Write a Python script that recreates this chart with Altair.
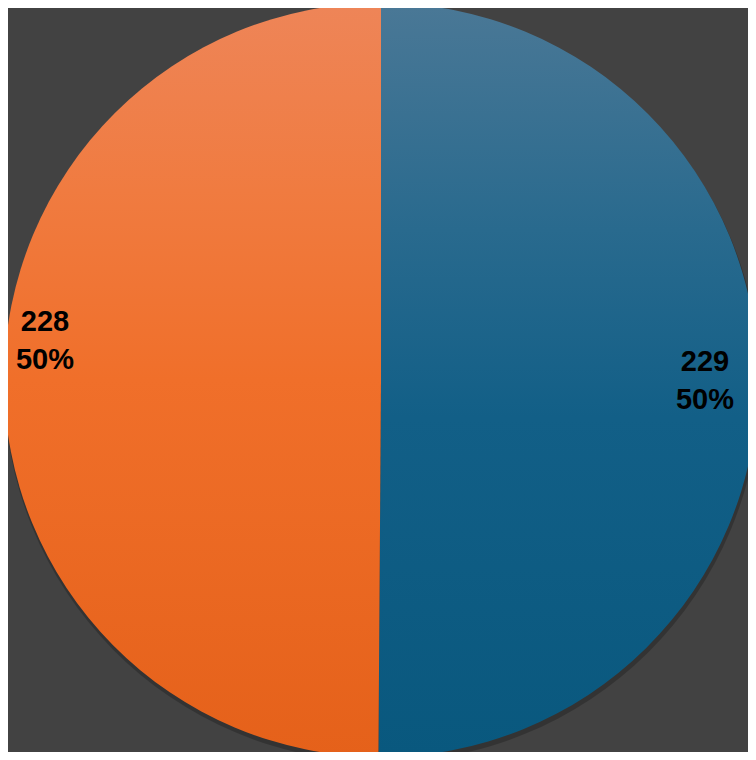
import altair as alt
import pandas as pd

categories = ["Blue", "Orange"]
values = [229, 228]
order_idx = [0, 1]

total = sum(values)
df = pd.DataFrame({
    "cat": categories,
    "value": values,
    "idx": order_idx,
    "label": [f"{v}\n{round(v / total * 100)}%" for v in values],
})

W, H = 740, 744
CX, CY = 373, 372
R = 377

def grad(stops):
    return alt.LinearGradient(
        gradient="linear",
        stops=[alt.GradientStop(color=c, offset=o) for o, c in stops],
        x1=0, x2=0, y1=0, y2=1,
    )

base = alt.Chart(df).transform_window(
    cum="sum(value)", sort=[alt.SortField("idx")]
).transform_calculate(
    start="datum.cum - datum.value",
    mid="datum.cum - datum.value / 2",
)

theta_scale = alt.Scale(domain=[0, total])

shadow = base.mark_arc(radius=R + 1, color="#000000", opacity=0.22).encode(
    theta=alt.Theta("start:Q", scale=theta_scale),
    theta2="cum:Q",
    x=alt.value(CX + 1),
    y=alt.value(CY + 4),
)

blue = base.transform_filter(alt.datum.cat == "Blue").mark_arc(
    radius=R,
    color=grad([(0, "#4a7896"), (0.3, "#296a8e"), (0.55, "#125f87"), (1, "#09587e")]),
).encode(
    theta=alt.Theta("start:Q", scale=theta_scale),
    theta2="cum:Q",
    x=alt.value(CX),
    y=alt.value(CY),
)

orange = base.transform_filter(alt.datum.cat == "Orange").mark_arc(
    radius=R,
    color=grad([(0, "#ee8558"), (0.25, "#f07b40"), (0.5, "#f06f2a"), (1, "#e5611a")]),
).encode(
    theta=alt.Theta("start:Q", scale=theta_scale),
    theta2="cum:Q",
    x=alt.value(CX),
    y=alt.value(CY),
)

text_common = dict(font="Liberation Sans", fontWeight="bold", fontSize=29,
                   color="#000000", lineBreak="\n", lineHeight=38,
                   align="center", baseline="middle")

blue_text = base.transform_filter(alt.datum.cat == "Blue").mark_text(
    radius=324, dy=-19, **text_common
).encode(
    theta=alt.Theta("mid:Q", scale=theta_scale),
    text="label:N",
    x=alt.value(CX),
    y=alt.value(CY),
)

orange_text = base.transform_filter(alt.datum.cat == "Orange").mark_text(
    radius=324, dx=-12, dy=-57, **text_common
).encode(
    theta=alt.Theta("mid:Q", scale=theta_scale),
    text="label:N",
    x=alt.value(CX),
    y=alt.value(CY),
)

chart = alt.layer(shadow, blue, orange, blue_text, orange_text).properties(
    width=W, height=H,
    background="#424242",
    padding=0,
    autosize=alt.AutoSizeParams(type="none"),
).configure_view(stroke=None)

chart.save("out.html", embed_options={"renderer": "svg", "actions": False})
